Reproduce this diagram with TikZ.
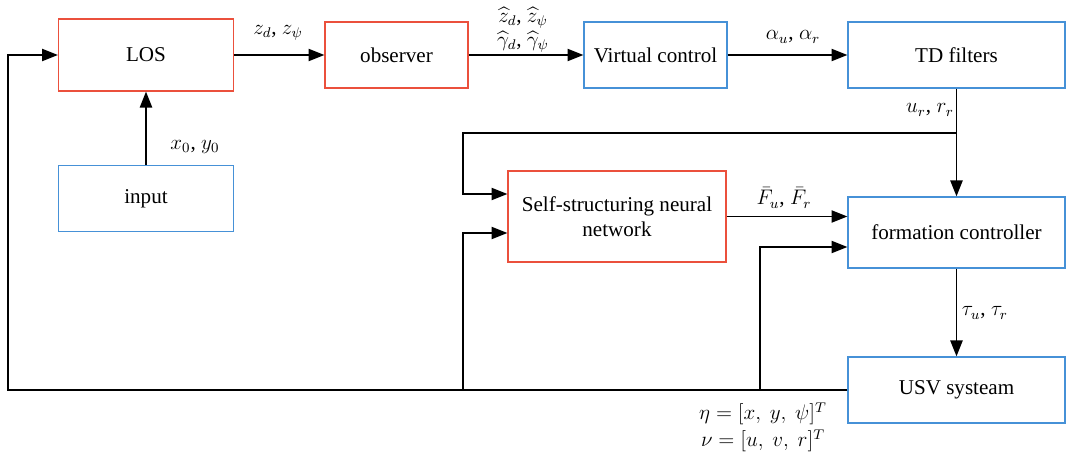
\documentclass[tikz,border=0pt,12pt]{standalone}
\usepackage{fontspec}
\setmainfont{Liberation Serif}
\usepackage{amsmath}
\usepackage{xcolor}
\usetikzlibrary{arrows.meta}
\definecolor{boxred}{RGB}{235,80,60}
\definecolor{boxblue}{RGB}{70,145,215}

\begin{document}
\begin{tikzpicture}[x=0.02cm,y=-0.02cm,
    redbox/.style={draw=boxred,line width=0.8pt,minimum height=1.32cm},
    bluebox/.style={draw=boxblue,line width=0.8pt,minimum height=1.32cm},
    lbl/.style={inner sep=1pt},
    arr/.style={-{Triangle[length=9pt,width=7pt]},line width=0.75pt}]
            \useasboundingbox (0,0) rectangle (1066,466);

            \node (los) at (146,55) [redbox,minimum width=3.5cm,minimum height=1.44cm] {LOS};
            \node (obs) at (396.5,55) [redbox,minimum width=2.86cm] {observer};
            \node (vc) at (655.5,55) [bluebox,minimum width=2.86cm] {Virtual control};
            \node (td) at (956.5,55) [bluebox,minimum width=4.34cm] {TD filters};
            \node (inp) at (146,198.5) [bluebox,minimum width=3.5cm] {input};
            \node (ssnn) at (617,216.5) [redbox,minimum width=4.36cm,minimum height=1.82cm,align=center] {Self-structuring neural\\network};
            \node (fc) at (956.5,232.5) [bluebox,minimum width=4.34cm,minimum height=1.42cm] {formation controller};
            \node (usv) at (956.5,390) [bluebox,minimum width=4.34cm] {USV systeam};

            \node (lz) at (278,33) [lbl] {$z_d$, $z_\psi$};
            \node (lzh) at (523,18) [lbl] {$\widehat{z}_d$, $\widehat{z}_\psi$};
            \node (lgh) at (523,42) [lbl] {$\widehat{\gamma}_d$, $\widehat{\gamma}_\psi$};
            \node (la) at (793,37) [lbl] {$\alpha_u$, $\alpha_r$};
            \node (lxy) at (195,147) [lbl] {$x_0$, $y_0$};
            \node (lur) at (930,110) [lbl] {$u_r$, $r_r$};
            \node (lf) at (784,198) [lbl] {$\bar{F}_u$, $\bar{F}_r$};
            \node (ltau) at (985,313) [lbl] {$\tau_u$, $\tau_r$};
            \node (leta) at (763,414) [lbl] {$\eta = [x,\ y,\ \psi]^T$};
            \node (lnu) at (763,441) [lbl] {$\nu = [u,\ v,\ r]^T$};

            \coordinate (t1) at (956.5,133);
            \coordinate (t2) at (463,194);
            \coordinate (b1) at (8,390);
            \coordinate (b2) at (463,233);
            \coordinate (b3) at (760,247);

            \draw[arr] (los) -- (obs);
            \draw[arr] (obs) -- (vc);
            \draw[arr] (vc) -- (td);
            \draw[arr] (inp) -- (los);
            \draw[arr] (td) -- (fc);
            \draw[arr] (ssnn) -- (ssnn -| fc.west);
            \draw[arr] (fc) -- (usv);
            \draw[arr] (t1) -| (t2) -- (t2 -| ssnn.west);
            \draw[arr] (usv.west) -- (b1) |- (los.west);
            \draw[arr] (b2 |- usv.west) -- (b2) -- (b2 -| ssnn.west);
            \draw[arr] (b3 |- usv.west) -- (b3) -- (b3 -| fc.west);

        \end{tikzpicture}
\end{document}
